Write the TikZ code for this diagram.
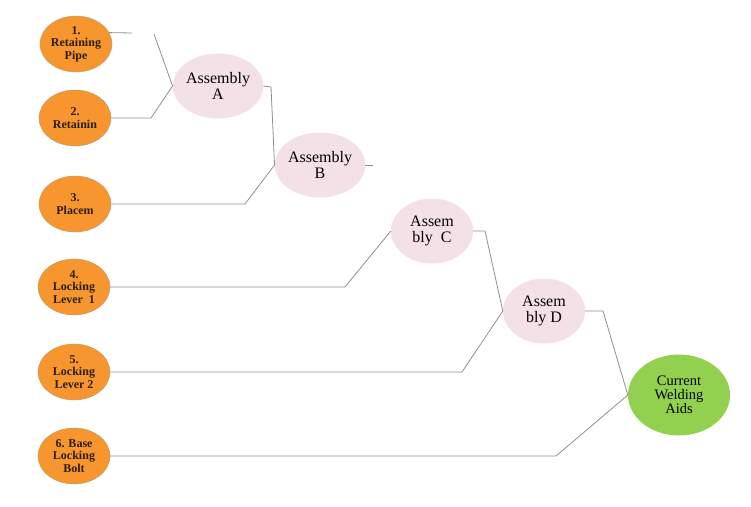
\documentclass[tikz,border=0pt]{standalone}
\usepackage{fontspec}
\setmainfont{Liberation Serif}
\usetikzlibrary{shapes.geometric}
\definecolor{partorange}{HTML}{F7962F}
\definecolor{partedge}{HTML}{B59A7A}
\definecolor{asmpink}{HTML}{F4E1E8}
\definecolor{finalgreen}{HTML}{92D050}
\definecolor{wire}{HTML}{8F8F8F}
\definecolor{parttext}{HTML}{2B1E0C}
\tikzset{
  part/.style={ellipse, fill=partorange, draw=partedge, line width=0.4pt,
    minimum width=72pt, minimum height=56pt, inner sep=0pt, align=center,
    text=parttext, font=\bfseries\fontsize{12}{12.5}\selectfont},
  asm/.style={ellipse, fill=asmpink, minimum width=82pt, minimum height=65pt,
    inner sep=0pt, align=center, font=\fontsize{16}{16.5}\selectfont},
  final/.style={ellipse, fill=finalgreen, minimum width=102pt, minimum height=81pt,
    inner sep=0pt, align=center, font=\fontsize{14.5}{14}\selectfont},
  link/.style={draw=wire, line width=0.8pt}
}
\begin{document}
\begin{tikzpicture}[x=1pt,y=-1pt]
\useasboundingbox (0,0) rectangle (751,506);
% component parts
\node[part] (p1) at (76,44)  {1.\\Retaining\\Pipe};
\node[part] (p2) at (75,118) {2.\\Retainin};
\node[part] (p3) at (75,204) {3.\\Placem};
\node[part] (p4) at (74,287) {4.\\Locking\\Lever\ \ 1};
\node[part] (p5) at (74,372) {5.\\Locking\\Lever 2};
\node[part] (p6) at (74,456) {6. Base\\Locking\\Bolt};
% sub-assemblies
\node[asm] (A) at (218,86)  {Assembly\\A};
\node[asm] (B) at (320,165) {Assembly\\B};
\node[asm] (C) at (432,231) {Assem\\bly\ \ C};
\node[asm] (D) at (544,311) {Assem\\bly D};
% final product
\node[final] (W) at (679,395) {Current\\Welding\\Aids};
% elbow points
\coordinate (e1a) at (132,33);
\coordinate (e1b) at (154,34);
\coordinate (e2) at (151,118);
\coordinate (eA) at (271,87);
\coordinate (e3) at (245,204);
\coordinate (eB) at (373,165);
\coordinate (e4) at (345,287);
\coordinate (eC) at (485,231);
\coordinate (e5) at (462,372);
\coordinate (eD) at (603,311);
\coordinate (e6) at (556,456);
% connectors
\draw[link] (p1.19) -- (e1a);
\draw[link] (e1b) -- (A.west);
\draw[link] (p2.east) -- (e2) -- (A.west);
\draw[link] (A.east) -- (eA) -- (B.west);
\draw[link] (p3.east) -- (e3) -- (B.west);
\draw[link] (B.east) -- (eB);
\draw[link] (p4.east) -- (e4) -- (C.west);
\draw[link] (C.east) -- (eC) -- (D.west);
\draw[link] (p5.east) -- (e5) -- (D.west);
\draw[link] (D.east) -- (eD) -- (W.west);
\draw[link] (p6.east) -- (e6) -- (W.west);
\end{tikzpicture}
\end{document}
